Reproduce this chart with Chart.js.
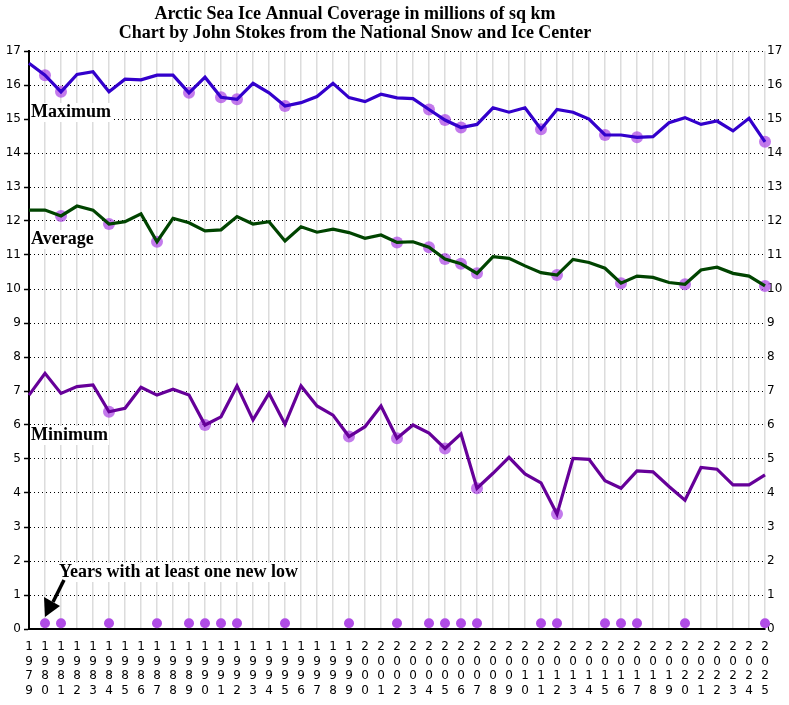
<!DOCTYPE html>
<html>
<head>
<meta charset="utf-8">
<script src="https://cdn.jsdelivr.net/npm/chart.js@4.4.1/dist/chart.umd.min.js"></script>
<style>
  body { margin: 0; background: #fff; }
  #wrap { width: 789px; height: 705px; position: relative; }
</style>
</head>
<body>
<div id="wrap"><canvas id="iceChart"></canvas></div>
<script>
// Data
const years = [1979, 1980, 1981, 1982, 1983, 1984, 1985, 1986, 1987, 1988,
  1989, 1990, 1991, 1992, 1993, 1994, 1995, 1996, 1997, 1998,
  1999, 2000, 2001, 2002, 2003, 2004, 2005, 2006, 2007, 2008,
  2009, 2010, 2011, 2012, 2013, 2014, 2015, 2016, 2017, 2018,
  2019, 2020, 2021, 2022, 2023, 2024, 2025];

const maxValues = [16.64, 16.29, 15.80, 16.31, 16.39, 15.80, 16.17, 16.15, 16.29, 16.29,
  15.77, 16.23, 15.64, 15.58, 16.05, 15.77, 15.38, 15.48, 15.66, 16.05,
  15.63, 15.51, 15.73, 15.62, 15.60, 15.28, 14.97, 14.75, 14.84, 15.33,
  15.20, 15.33, 14.70, 15.28, 15.20, 15.00, 14.53, 14.53, 14.46, 14.48,
  14.89, 15.04, 14.84, 14.94, 14.65, 15.02, 14.33];

const avgValues = [12.32, 12.32, 12.15, 12.44, 12.32, 11.91, 11.98, 12.21, 11.39, 12.08,
  11.95, 11.71, 11.74, 12.13, 11.91, 11.98, 11.41, 11.83, 11.67, 11.76,
  11.66, 11.49, 11.59, 11.37, 11.39, 11.23, 10.88, 10.74, 10.46, 10.95,
  10.90, 10.68, 10.48, 10.41, 10.87, 10.78, 10.61, 10.17, 10.38, 10.34,
  10.19, 10.14, 10.56, 10.64, 10.46, 10.38, 10.09];

const minValues = [6.88, 7.52, 6.93, 7.13, 7.18, 6.39, 6.49, 7.11, 6.88, 7.05,
  6.88, 6.00, 6.24, 7.15, 6.15, 6.93, 6.02, 7.15, 6.56, 6.29,
  5.66, 5.95, 6.56, 5.61, 6.00, 5.76, 5.31, 5.74, 4.14, 4.58,
  5.05, 4.56, 4.30, 3.38, 5.02, 4.99, 4.36, 4.14, 4.65, 4.62,
  4.19, 3.79, 4.75, 4.70, 4.24, 4.24, 4.53];

// years in which each series set a new record low
const maxLowYears = [1980, 1981, 1989, 1991, 1992, 1995, 2004, 2005, 2006, 2011, 2015, 2017, 2025];
const avgLowYears = [1981, 1984, 1987, 2002, 2004, 2005, 2006, 2007, 2012, 2016, 2020, 2025];
const minLowYears = [1984, 1990, 1999, 2002, 2005, 2007, 2012];
const lowRowValue = 0.17;

const yTicks = [0, 1, 2, 3, 4, 5, 6, 7, 8, 9, 10, 11, 12, 13, 14, 15, 16, 17];

const titleLines = ['Arctic Sea Ice Annual Coverage in millions of sq km',
  'Chart by John Stokes from the National Snow and Ice Center'];

// helpers
function lowPoints(values, lowYears) {
  return years.map((y, i) => lowYears.includes(y) ? values[i] : null);
}
const anyLowYears = years.filter(y =>
  maxLowYears.includes(y) || avgLowYears.includes(y) || minLowYears.includes(y));
const lowRow = years.map(y => anyLowYears.includes(y) ? lowRowValue : null);

const circleColor = 'rgba(172, 70, 228, 0.72)';

function lineSet(data, color) {
  return {
    data: data, borderColor: color, borderWidth: 3.2, pointRadius: 0,
    tension: 0, fill: false, yAxisID: 'y'
  };
}
function dotSet(data, color, r) {
  return {
    data: data, showLine: false, pointRadius: r, pointHoverRadius: r,
    pointBackgroundColor: color, pointBorderWidth: 0, yAxisID: 'y'
  };
}

// titles, series labels and arrow
const annotations = {
  id: 'annotations',
  beforeDatasetsDraw(chart) {
    const ctx = chart.ctx;
    ctx.save();
    const labels = [
      ['Maximum', 31, 117],
      ['Average', 31, 244],
      ['Minimum', 31, 440],
      ['Years with at least one new low', 59, 577]
    ];
    ctx.font = 'bold 18px "Liberation Serif", "Times New Roman", serif';
    ctx.textBaseline = 'alphabetic';
    ctx.textAlign = 'left';
    labels.forEach(([t, x, y]) => {
      const w = ctx.measureText(t).width;
      ctx.fillStyle = '#fff';
      ctx.fillRect(x - 1, y - 14, w + 2, 19);
      ctx.fillStyle = '#000';
      ctx.fillText(t, x, y);
    });

    // arrow toward first low year
    ctx.strokeStyle = '#000';
    ctx.fillStyle = '#000';
    ctx.lineWidth = 3.5;
    ctx.beginPath();
    ctx.moveTo(64, 580);
    ctx.lineTo(53, 602);
    ctx.stroke();
    ctx.beginPath();
    ctx.moveTo(45, 617);
    ctx.lineTo(44, 597);
    ctx.lineTo(60, 606);
    ctx.closePath();
    ctx.fill();
    ctx.restore();
  },
  afterDraw(chart) {
    const ctx = chart.ctx;
    ctx.save();
    ctx.font = 'bold 18px "Liberation Serif", "Times New Roman", serif';
    ctx.fillStyle = '#000';
    ctx.textAlign = 'center';
    ctx.textBaseline = 'alphabetic';
    ctx.fillText(titleLines[0], 355, 19);
    ctx.fillText(titleLines[1], 355, 38);
    ctx.restore();
  }
};

const tickFont = { family: '"DejaVu Sans", sans-serif', size: 12, lineHeight: 1.2 };

new Chart(document.getElementById('iceChart'), {
  type: 'line',
  data: {
    labels: years.map(String),
    datasets: [
      lineSet(maxValues, '#3300cc'),
      lineSet(avgValues, '#004400'),
      lineSet(minValues, '#660099'),
      dotSet(lowPoints(maxValues, maxLowYears), circleColor, 6),
      dotSet(lowPoints(avgValues, avgLowYears), circleColor, 6),
      dotSet(lowPoints(minValues, minLowYears), circleColor, 6),
      dotSet(lowRow, '#b04ce6', 5)
    ]
  },
  options: {
    responsive: true,
    maintainAspectRatio: false,
    animation: false,
    events: [],
    layout: { padding: { top: 51, left: 0, right: 0, bottom: 0 } },
    plugins: { legend: { display: false }, title: { display: false }, tooltip: { enabled: false } },
    scales: {
      x: {
        type: 'category',
        offset: false,
        grid: { display: true, color: '#dcdcdc', lineWidth: 1.5, drawTicks: false },
        border: { display: true, color: '#000', width: 2 },
        ticks: {
          autoSkip: false, maxRotation: 0, minRotation: 0, padding: 11,
          color: '#000', font: tickFont,
          callback: function (v) { return this.getLabelForValue(v).split(''); }
        },
        afterFit: s => { s.height = 76; }
      },
      y: {
        position: 'left',
        min: 0, max: 17,
        afterBuildTicks: s => { s.ticks = yTicks.map(v => ({ value: v })); },
        grid: {
          color: '#000', lineWidth: 1,
          tickLength: 5, tickColor: '#000', tickWidth: 1.5, tickBorderDash: []
        },
        border: { display: true, color: '#000', width: 2, dash: [1, 3] },
        ticks: { color: '#000', font: tickFont, padding: 3 },
        afterFit: s => { s.width = 29; }
      },
      yRight: {
        position: 'right',
        min: 0, max: 17,
        afterBuildTicks: s => { s.ticks = yTicks.map(v => ({ value: v })); },
        grid: { display: false, drawTicks: false },
        border: { display: false },
        ticks: { color: '#000', font: tickFont, padding: 2 },
        afterFit: s => { s.width = 24; }
      }
    }
  },
  plugins: [annotations]
});
</script>
</body>
</html>
